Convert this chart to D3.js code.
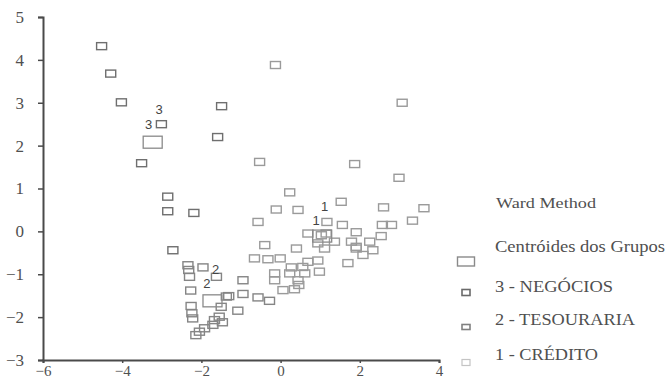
<!DOCTYPE html>
<html>
<head>
<meta charset="utf-8">
<script src="https://cdn.jsdelivr.net/npm/d3@7/dist/d3.min.js"></script>
<style>
  html, body { margin: 0; padding: 0; background: #fff; }
  svg { display: block; }
  text { font-family: "Liberation Serif", "DejaVu Serif", serif; fill: #505050; }
</style>
</head>
<body>
<svg id="chart" width="667" height="380"></svg>
<script>
// ---- Data ----
const xTicks = [-6, -4, -2, 0, 2, 4];
const yTicks = [-3, -2, -1, 0, 1, 2, 3, 4, 5];

const grupo3 = [ // 3 - NEGÓCIOS
  [-4.52, 4.32], [-4.29, 3.68], [-4.02, 3.01], [-3.01, 2.50], [-3.51, 1.59],
  [-1.49, 2.92], [-1.59, 2.20], [-2.85, 0.81], [-2.85, 0.47], [-2.19, 0.43],
  [-2.72, -0.44]
];
const grupo2 = [ // 2 - TESOURARIA
  [-2.34, -0.79], [-2.32, -0.90], [-2.30, -1.06], [-1.96, -0.84], [-1.62, -1.06],
  [-2.27, -1.38], [-2.26, -1.74], [-2.24, -1.91], [-2.22, -2.03], [-2.14, -2.42],
  [-2.05, -2.34], [-1.92, -2.26], [-1.50, -1.76], [-1.37, -1.52], [-1.67, -2.07],
  [-1.55, -1.99], [-1.47, -2.12], [-1.71, -2.18], [-1.08, -1.85], [-1.31, -1.51],
  [-0.95, -1.46], [-0.95, -1.14], [-0.57, -1.54], [-0.28, -1.62]
];
const grupo1 = [ // 1 - CRÉDITO
  [-0.13, 3.88], [3.07, 3.00], [-0.53, 1.62], [1.87, 1.57], [2.99, 1.25],
  [0.23, 0.91], [-0.11, 0.51], [0.44, 0.50], [1.53, 0.69], [2.60, 0.56],
  [3.62, 0.54], [-0.57, 0.22], [1.17, 0.22], [1.56, 0.15], [2.57, 0.15],
  [2.80, 0.15], [3.33, 0.25], [0.69, -0.05], [1.91, -0.02], [2.25, -0.24],
  [2.54, -0.11], [1.36, -0.24], [1.79, -0.24], [1.91, -0.40], [2.33, -0.44],
  [2.08, -0.55], [1.70, -0.74], [0.94, -0.28], [1.11, -0.40], [0.40, -0.40],
  [-0.40, -0.32], [-0.66, -0.63], [-0.32, -0.65], [-0.01, -0.63], [0.27, -0.84],
  [0.56, -0.83], [0.69, -0.71], [0.94, -0.68], [0.98, -0.94], [-0.15, -0.98],
  [0.23, -0.98], [0.61, -0.98], [-0.15, -1.14], [0.44, -1.14], [0.46, -1.25],
  [0.06, -1.37], [0.35, -1.35], [1.03, -0.09], [1.15, -0.05], [1.91, -0.36]
];
const centroides = [[-3.23, 2.08], [-1.72, -1.62], [1.05, -0.11]];
const rotulos = [
  ["3", -3.07, 2.84], ["3", -3.33, 2.50],
  ["2", -1.64, -0.90], ["2", -1.86, -1.21],
  ["1", 1.11, 0.57], ["1", 0.90, 0.26]
];
const legendTitle = "Ward Method";
const legendItems = ["Centróides dos Grupos", "3 - NEGÓCIOS", "2 - TESOURARIA", "1 - CRÉDITO"];

// ---- Drawing ----
const svg = d3.select("#chart");
const x = d3.scaleLinear().domain([-6, 4]).range([43, 439]);
const y = d3.scaleLinear().domain([-3, 5]).range([360, 17]);

const colors = { g3: "#6f6f6f", g2: "#858585", g1: "#9a9a9a", c: "#8a8a8a" };

// axes
const yAxis = svg.append("g").attr("transform", `translate(${x(-6)},0)`)
  .call(d3.axisLeft(y).tickValues(yTicks).tickSize(5).tickPadding(14).tickFormat(d3.format("d")));
const xAxis = svg.append("g").attr("transform", `translate(0,${y(-3)})`)
  .call(d3.axisBottom(x).tickValues(xTicks).tickSize(3).tickPadding(2).tickFormat(d3.format("d")));
[yAxis, xAxis].forEach(a => {
  a.attr("font-family", null);
  a.select(".domain").attr("stroke", "#4a4a4a").attr("stroke-width", 2);
  a.selectAll(".tick line").attr("stroke", "#4a4a4a").attr("stroke-width", 1.5);
  a.selectAll(".tick text").attr("font-size", 17).attr("fill", "#505050")
    .attr("font-family", "Liberation Serif, serif");
});
xAxis.selectAll(".tick text").attr("font-size", 15).attr("dy", "0.71em");

function drawRects(data, w, h, color, sw) {
  svg.append("g").selectAll("rect").data(data).join("rect")
    .attr("x", d => x(d[0]) - w / 2)
    .attr("y", d => y(d[1]) - h / 2)
    .attr("width", w).attr("height", h)
    .attr("fill", "none").attr("stroke", color).attr("stroke-width", sw);
}
drawRects(grupo1, 10, 7, colors.g1, 1.4);
drawRects(grupo2, 10, 7, colors.g2, 1.4);
drawRects(grupo3, 10, 7, colors.g3, 1.4);
drawRects(centroides, 19, 12, colors.c, 1.3);

svg.append("g").selectAll("text").data(rotulos).join("text")
  .attr("x", d => x(d[1])).attr("y", d => y(d[2]))
  .attr("text-anchor", "middle").attr("dominant-baseline", "central")
  .attr("font-size", 13).style("font-family", "Liberation Sans, Arial, sans-serif")
  .style("fill", "#444")
  .text(d => d[0]);

// legend
svg.append("text").attr("x", 496).attr("y", 208).attr("font-size", 15)
  .attr("textLength", 100).attr("lengthAdjust", "spacingAndGlyphs").text(legendTitle);

const legY = [252, 291.5, 324.5, 360];
const legW = [170, 118, 140, 103];
const legMarkY = [261.5, 292.5, 327, 362.5];
const legMarker = [
  { w: 17, h: 9, c: colors.c, sw: 1.4 },
  { w: 8, h: 6, c: "#6a6a6a", sw: 1.6 },
  { w: 8, h: 5, c: "#808080", sw: 1.6 },
  { w: 8, h: 6, c: "#c4c4c4", sw: 1.2 }
];
legendItems.forEach((t, i) => {
  svg.append("text").attr("x", 495).attr("y", legY[i]).attr("font-size", 16)
    .attr("textLength", legW[i]).attr("lengthAdjust", "spacingAndGlyphs").text(t);
  const m = legMarker[i];
  svg.append("rect").attr("x", 466 - m.w / 2).attr("y", legMarkY[i] - m.h / 2)
    .attr("width", m.w).attr("height", m.h).attr("fill", "none")
    .attr("stroke", m.c).attr("stroke-width", m.sw);
});
</script>
</body>
</html>
